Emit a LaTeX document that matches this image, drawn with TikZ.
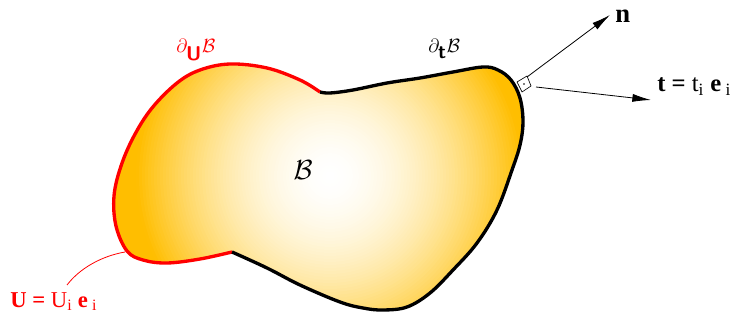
\documentclass[tikz,border=0pt]{standalone}
\usepackage{fontspec}
\setmainfont{Liberation Serif}
\usetikzlibrary{arrows.meta}
\definecolor{myorange}{RGB}{255,190,0}
\definecolor{myred}{RGB}{255,0,0}
\tikzset{
  redline/.style={draw=myred, line width=2.5pt, line join=round},
  blackline/.style={draw=black, line width=2.5pt, line join=round},
  vecarrow/.style={draw=black, line width=0.6pt, -{Latex[length=14pt,width=6pt]}},
  leader/.style={draw=myred, line width=0.6pt},
  bigtxt/.style={font=\fontsize{20}{24}\selectfont, inner sep=0pt},
  ttxt/.style={font=\fontsize{18.5}{22}\selectfont, inner sep=0pt},
  redtxt/.style={font=\fontsize{17}{20}\selectfont, text=myred, inner sep=0pt},
  bndtxt/.style={font=\fontsize{15}{18}\selectfont, inner sep=0pt},
}
\begin{document}
\begin{tikzpicture}[x=0.75pt, y=-0.75pt]
\useasboundingbox (0,0) rectangle (731,320);
% shading clipped to the body
\begin{scope}
\clip plot[smooth, tension=0.6] coordinates {(320,92) (300,80) (267,68) (230,64) (200,70) (177,83) (152,108) (134,136) (121,166) (114,196) (116,226) (127,251) (143,260) (167,263) (200,259) (232,252)}
 -- plot[smooth, tension=0.6] coordinates {(232,252) (267,268) (300,285) (340,302) (363,308) (383,310) (407,307) (430,293) (453,270) (477,243) (497,210) (512,170) (520,145) (523,122) (520,98) (511,80) (498,70) (483,67) (453,72) (420,78) (387,83) (353,90) (330,93) (320,92)} -- cycle;
\fill[myorange] (0,0) rectangle (731,320);
\foreach \r in {200,197,...,2} {
  \pgfmathsetmacro\p{min(100,100*(\r/195)^1.8)}
  \fill[myorange!\p!white] (330,176) circle (\r);
}
\end{scope}
% boundary parts
\draw[redline] plot[smooth, tension=0.6] coordinates {(320,92) (300,80) (267,68) (230,64) (200,70) (177,83) (152,108) (134,136) (121,166) (114,196) (116,226) (127,251) (143,260) (167,263) (200,259) (232,252)};
\draw[blackline] plot[smooth, tension=0.6] coordinates {(232,252) (267,268) (300,285) (340,302) (363,308) (383,310) (407,307) (430,293) (453,270) (477,243) (497,210) (512,170) (520,145) (523,122) (520,98) (511,80) (498,70) (483,67) (453,72) (420,78) (387,83) (353,90) (330,93) (320,92)};
% right-angle mark
\draw[line width=0.5pt, fill=white] (517,82) -- (527,76) -- (531,86) -- (522,92) -- cycle;
\fill (524,84) circle (0.8);
% vectors
\coordinate (nbase) at (527,77);
\coordinate (ntip) at (610,15);
\coordinate (tbase) at (536,87);
\coordinate (ttip) at (651,100);
\draw[vecarrow] (nbase) -- (ntip);
\draw[vecarrow] (tbase) -- (ttip);
\node[bigtxt, anchor=base west] (nlab) at (615,23) {\textbf{n}};
\node[ttxt, anchor=base west] (tlab) at (657,92) {\textbf{t} \textbf{=} t\textsubscript{i} \textbf{e}\textsubscript{ i}};
% labels
\node[bndtxt, anchor=base west, text=myred] (dU) at (176,53) {$\partial_{\textsf{\textbf{U}}}\mathcal{B}$};
\node[bndtxt, anchor=base west] (dt) at (428,53) {$\partial_{\textsf{\textbf{t}}}\mathcal{B}$};
\node[font=\fontsize{20}{24}\selectfont, inner sep=0pt] (B) at (303,170) {$\mathcal{B}$};
% displacement label and leader
\node[redtxt, anchor=base west] (Ulab) at (10,307) {\textbf{U} \textbf{=} U\textsubscript{i} \textbf{e}\textsubscript{ i}};
\coordinate (lstart) at (67,285);
\coordinate (lend) at (125,252);
\draw[leader] (lstart) .. controls (80,268) and (102,256) .. (lend);
\end{tikzpicture}
\end{document}
